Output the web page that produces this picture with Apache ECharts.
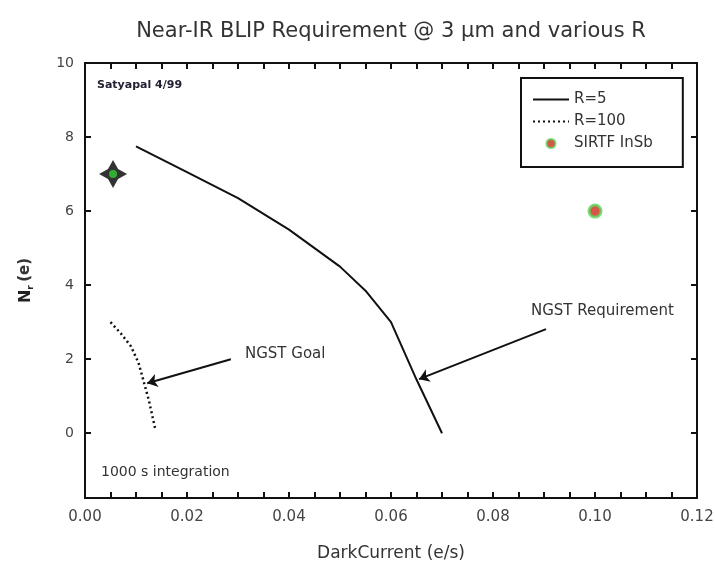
<!DOCTYPE html>
<html>
<head>
<meta charset="utf-8">
<script src="https://cdn.jsdelivr.net/npm/echarts@6/dist/echarts.min.js"></script>
<style>html,body{margin:0;padding:0;background:#fff}#c{width:715px;height:565px}</style>
</head>
<body>
<div id="c"></div>
<script>
// ---- data ----
var r5X = [0.010, 0.020, 0.030, 0.040, 0.050, 0.055, 0.060, 0.065, 0.070];
var r5Y = [7.75, 7.05, 6.35, 5.50, 4.50, 3.85, 3.00, 1.45, 0.00];
var r100X = [0.005, 0.007, 0.009, 0.0105, 0.0115, 0.0125, 0.0138];
var r100Y = [3.00, 2.70, 2.35, 1.90, 1.40, 0.90, 0.10];
var sirtfPoint = [0.10, 6.0];
var starPoint = [0.0055, 7.0];
var goalArrow = [[0.0286, 2.0], [0.0122, 1.35]];
var reqArrow = [[0.0904, 2.81], [0.0655, 1.46]];
var xTicks = [0.00, 0.02, 0.04, 0.06, 0.08, 0.10, 0.12];
var xTickMarks = [0.005, 0.010, 0.015, 0.020, 0.025, 0.030, 0.035, 0.040, 0.045, 0.050, 0.055, 0.060,
                  0.065, 0.070, 0.075, 0.080, 0.085, 0.090, 0.095, 0.100, 0.105, 0.110, 0.115];
var yTicks = [0, 2, 4, 6, 8, 10];

function zip(a, b) { return a.map(function (v, i) { return [v, b[i]]; }); }

var FONT = 'DejaVu Sans';
var INK = '#111';
var chart = echarts.init(document.getElementById('c'));
function xAxisCfg(pos) {
  return {
    type: 'value', min: 0, max: 0.12, interval: 0.02, position: pos,
    axisLine: { show: true, onZero: false, lineStyle: { color: INK, width: 2 } },
    axisTick: { show: true, inside: true, length: 6, customValues: xTickMarks, lineStyle: { color: INK, width: 2 } },
    minorTick: { show: false },
    splitLine: { show: false }
  };
}
function yAxisCfg(pos) {
  return {
    type: 'value', min: -1.75, max: 10, position: pos,
    axisLine: { show: true, onZero: false, lineStyle: { color: INK, width: 2 } },
    axisTick: { show: true, inside: true, length: 6, customValues: yTicks, lineStyle: { color: INK, width: 2 } },
    splitLine: { show: false }
  };
}
var xb = xAxisCfg('bottom');
xb.name = 'DarkCurrent (e/s)'; xb.nameLocation = 'middle'; xb.nameGap = 47;
xb.nameTextStyle = { fontFamily: FONT, fontSize: 17, color: '#333' };
xb.axisLabel = { show: true, margin: 12, fontFamily: FONT, fontSize: 15, color: '#444',
  customValues: xTicks, formatter: function (v) { return v.toFixed(2); } };
var xt = xAxisCfg('top'); xt.axisLabel = { show: false };
var yl = yAxisCfg('left');
yl.name = '{n|N}{s|r} {p|(e)}'; yl.nameLocation = 'middle'; yl.nameGap = 50;
yl.nameTextStyle = { rich: {
  n: { fontFamily: FONT, fontSize: 16, fontWeight: 'bold', color: '#222' },
  s: { fontFamily: FONT, fontSize: 9, fontWeight: 'bold', color: '#222', padding: [10, 0, 0, 0] },
  p: { fontFamily: FONT, fontSize: 15, fontWeight: 'bold', color: '#333' }
} };
yl.axisLabel = { show: true, margin: 11, fontFamily: FONT, fontSize: 14, color: '#444', customValues: yTicks };
var yr = yAxisCfg('right'); yr.axisLabel = { show: false };

chart.setOption({
  animation: false,
  title: {
    text: 'Near-IR BLIP Requirement @ 3 µm and various R',
    left: 386, top: 16, textAlign: 'center',
    textStyle: { fontFamily: FONT, fontSize: 21, fontWeight: 'normal', color: '#333' }
  },
  grid: { left: 85, right: 18, top: 63, bottom: 67, outerBoundsMode: 'none' },
  legend: {
    orient: 'vertical', left: 521, top: 78,
    padding: [14, 30, 16, 11], itemGap: 7, itemWidth: 36, itemHeight: 9,
    borderColor: INK, borderWidth: 2,
    textStyle: { fontFamily: FONT, fontSize: 15, color: '#333' },
    data: [
      { name: 'R=5', itemStyle: { opacity: 0 } },
      { name: 'R=100', itemStyle: { opacity: 0 } },
      { name: 'SIRTF InSb', itemStyle: { color: '#c83018', borderColor: '#5fd35f', borderWidth: 2 } }
    ]
  },
  xAxis: [xb, xt],
  yAxis: [yl, yr],
  series: [
    {
      name: 'R=5', type: 'line', data: zip(r5X, r5Y), symbol: 'none',
      lineStyle: { color: INK, width: 2 }, itemStyle: { color: INK },
      markLine: {
        silent: true, symbol: ['none', 'arrow'], symbolSize: 10,
        lineStyle: { color: INK, width: 2, type: 'solid' }, label: { show: false },
        data: [
          [{ coord: goalArrow[0] }, { coord: goalArrow[1] }],
          [{ coord: reqArrow[0] }, { coord: reqArrow[1] }]
        ]
      }
    },
    {
      name: 'R=100', type: 'line', data: zip(r100X, r100Y), symbol: 'none',
      lineStyle: { color: INK, width: 2.5, type: [2, 3] }, itemStyle: { color: INK }
    },
    {
      name: 'SIRTF InSb', type: 'scatter', data: [sirtfPoint], symbol: 'circle', symbolSize: 12,
      itemStyle: { color: '#d02818', borderColor: '#5fd35f', borderWidth: 3 }
    },
    {
      name: 'star', type: 'scatter', data: [starPoint], z: 3,
      symbol: 'path://M0,-10 L3.6,-3.6 L10,0 L3.6,3.6 L0,10 L-3.6,3.6 L-10,0 L-3.6,-3.6 Z', symbolSize: 28,
      itemStyle: { color: '#000' }
    },
    {
      name: 'starCore', type: 'scatter', data: [starPoint], z: 4,
      symbol: 'circle', symbolSize: 8, itemStyle: { color: '#33cc33' }
    }
  ],
  graphic: [
    { type: 'text', left: 97, top: 80, style: { text: 'Satyapal 4/99', font: 'bold 11px ' + FONT, fill: '#223' } },
    { type: 'text', left: 101, top: 465, style: { text: '1000 s integration', font: '14px ' + FONT, fill: '#333' } },
    { type: 'text', left: 245, top: 347, style: { text: 'NGST Goal', font: '15px ' + FONT, fill: '#333' } },
    { type: 'text', left: 531, top: 304, style: { text: 'NGST Requirement', font: '15px ' + FONT, fill: '#333' } }
  ]
});
</script>
</body>
</html>
